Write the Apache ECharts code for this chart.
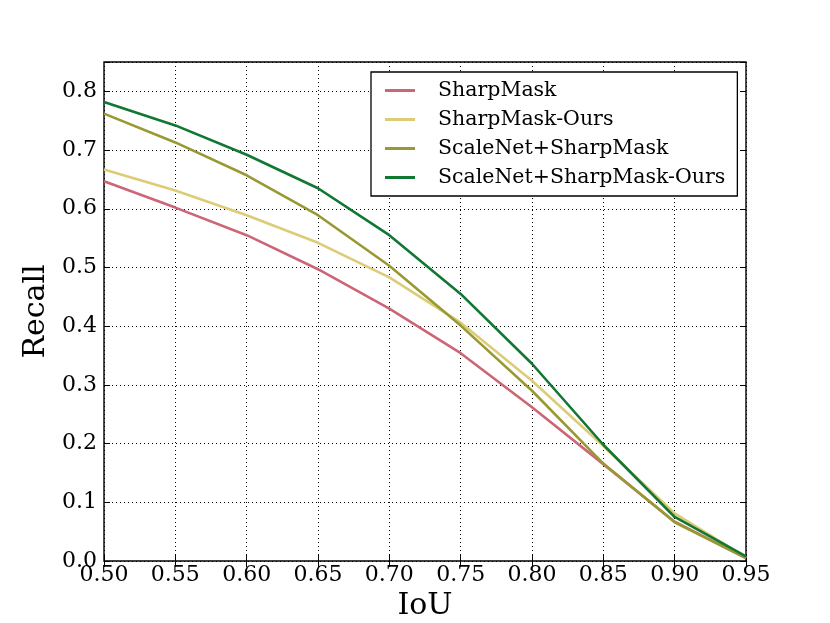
<!DOCTYPE html>
<html>
<head>
<meta charset="utf-8">
<script src="https://cdn.jsdelivr.net/npm/echarts@6/dist/echarts.min.js"></script>
<style>
  html, body { margin: 0; padding: 0; background: #fff; }
  #main { width: 830px; height: 623px; }
</style>
</head>
<body>
<div id="main"></div>
<script>
// IoU thresholds
var iou = [0.50, 0.55, 0.60, 0.65, 0.70, 0.75, 0.80, 0.85, 0.90, 0.95];
// recall curves
var sharpMask = [0.647, 0.602, 0.555, 0.497, 0.430, 0.354, 0.262, 0.165, 0.067, 0.005];
var sharpMaskOurs = [0.667, 0.631, 0.589, 0.542, 0.483, 0.406, 0.307, 0.196, 0.081, 0.006];
var scaleNetSharpMask = [0.762, 0.713, 0.657, 0.589, 0.503, 0.401, 0.290, 0.166, 0.066, 0.005];
var scaleNetSharpMaskOurs = [0.782, 0.742, 0.692, 0.635, 0.555, 0.455, 0.336, 0.198, 0.075, 0.008];
var names = ['SharpMask', 'SharpMask-Ours', 'ScaleNet+SharpMask', 'ScaleNet+SharpMask-Ours'];
var colors = ['#cc6677', '#ddcc77', '#999933', '#117733'];

function pairs(ys) {
	return iou.map(function (x, i) { return [x, ys[i]]; });
}

var chart = echarts.init(document.getElementById('main'));
var font = 'DejaVu Serif';
var dotted = { show: true, lineStyle: { color: '#000', type: [1, 3], width: 1 } };

function mirrorAxis(pos) {
	return {
		type: 'value',
		position: pos,
		axisLine: { show: false },
		axisTick: { show: true, inside: true, length: 6, lineStyle: { color: '#000' } },
		axisLabel: { show: false },
		splitLine: { show: false }
	};
}

var xTop = mirrorAxis('top');
xTop.min = 0.5; xTop.max = 0.95; xTop.interval = 0.05;
var yRight = mirrorAxis('right');
yRight.min = 0; yRight.max = 0.85; yRight.interval = 0.1;

var option = {
	backgroundColor: '#fff',
	animation: false,
	color: colors,
	grid: {
		left: 104, right: 84, top: 62, bottom: 62,
		outerBoundsMode: 'none',
		containLabel: false,
		show: true, borderColor: '#000', borderWidth: 1.4, backgroundColor: 'transparent'
	},
	legend: {
		orient: 'vertical',
		left: 371, top: 72,
		padding: [8, 12, 8, 14],
		itemGap: 8,
		itemWidth: 30, itemHeight: 3,
		icon: 'rect',
		borderColor: '#000', borderWidth: 1.3,
		backgroundColor: '#fff',
		textStyle: { fontFamily: font, fontSize: 20.5, color: '#000', padding: [0, 0, 0, 18] },
		data: names
	},
	xAxis: [{
		type: 'value',
		min: 0.5, max: 0.95, interval: 0.05,
		name: 'IoU',
		nameLocation: 'middle',
		nameGap: 28,
		nameTextStyle: { fontFamily: font, fontSize: 30, color: '#000' },
		axisLine: { show: false },
		axisTick: { show: true, inside: true, length: 6, lineStyle: { color: '#000' } },
		axisLabel: {
			fontFamily: font, fontSize: 22, color: '#000', margin: 3,
			formatter: function (v) { return v.toFixed(2); }
		},
		splitLine: dotted
	}, xTop],
	yAxis: [{
		type: 'value',
		min: 0, max: 0.85, interval: 0.1,
		name: 'Recall',
		nameLocation: 'middle',
		nameGap: 48,
		nameTextStyle: { fontFamily: font, fontSize: 30, color: '#000' },
		axisLine: { show: false },
		axisTick: { show: true, inside: true, length: 6, lineStyle: { color: '#000' } },
		axisLabel: {
			fontFamily: font, fontSize: 22, color: '#000', margin: 7,
			formatter: function (v) { return v > 0.81 ? '' : v.toFixed(1); }
		},
		splitLine: dotted
	}, yRight],
	series: [sharpMask, sharpMaskOurs, scaleNetSharpMask, scaleNetSharpMaskOurs].map(function (ys, i) {
		return {
			name: names[i],
			type: 'line',
			data: pairs(ys),
			symbol: 'none',
			lineStyle: { width: 2.6, color: colors[i] },
			z: 2 + i
		};
	})
};
chart.setOption(option);
</script>
</body>
</html>
